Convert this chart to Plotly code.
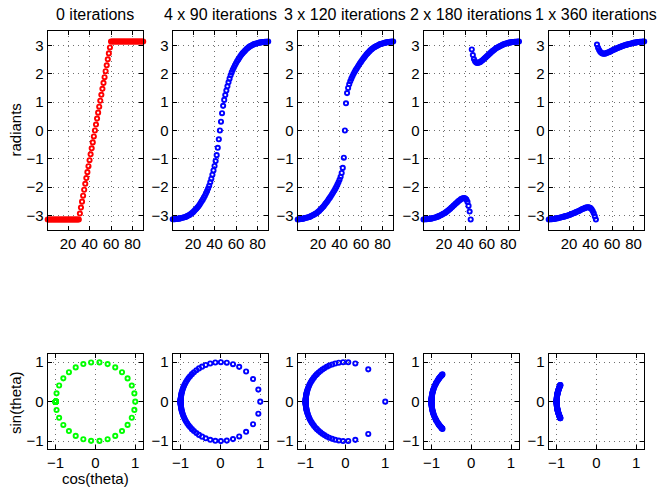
import numpy as np
import plotly.graph_objects as go

W, H = 657, 491

# sample index (x axis of the top row)
idx = list(range(1, 91))

titles = ["0 iterations", "4 x 90 iterations", "3 x 120 iterations",
          "2 x 180 iterations", "1 x 360 iterations"]

# phase (radians) per sample
theta0 = [-3.14] * 30 + [
    -2.93, -2.72, -2.51, -2.30, -2.09, -1.88, -1.68, -1.47, -1.26, -1.05,
    -0.84, -0.63, -0.42, -0.21, 0.00, 0.21, 0.42, 0.63, 0.84, 1.05,
    1.26, 1.47, 1.68, 1.88, 2.09, 2.30, 2.51, 2.72, 2.93] + [3.14] * 31

theta1 = [
    -3.13, -3.13, -3.13, -3.12, -3.12, -3.11, -3.11, -3.10, -3.09, -3.08,
    -3.07, -3.06, -3.05, -3.03, -3.01, -2.99, -2.97, -2.94, -2.91, -2.88,
    -2.84, -2.80, -2.76, -2.72, -2.67, -2.62, -2.56, -2.50, -2.44, -2.37,
    -2.30, -2.22, -2.14, -2.05, -1.95, -1.83, -1.70, -1.56, -1.41, -1.25,
    -1.08, -0.87, -0.61, -0.31, 0.00,
    0.31, 0.61, 0.87, 1.08, 1.25, 1.41, 1.56, 1.70, 1.83, 1.95,
    2.05, 2.14, 2.22, 2.30, 2.37, 2.44, 2.50, 2.56, 2.62, 2.67,
    2.72, 2.76, 2.80, 2.84, 2.88, 2.91, 2.94, 2.97, 2.99, 3.01,
    3.03, 3.05, 3.06, 3.07, 3.08, 3.09, 3.10, 3.11, 3.11, 3.12,
    3.12, 3.13, 3.13, 3.13, 3.14]

theta2 = [
    -3.14, -3.13, -3.13, -3.12, -3.12, -3.11, -3.10, -3.09, -3.08, -3.07,
    -3.06, -3.05, -3.03, -3.01, -2.99, -2.97, -2.95, -2.93, -2.90, -2.87,
    -2.84, -2.80, -2.76, -2.72, -2.68, -2.63, -2.58, -2.53, -2.48, -2.42,
    -2.37, -2.31, -2.25, -2.19, -2.13, -2.06, -1.99, -1.91, -1.83, -1.74,
    -1.63, -1.50, -1.32, -0.96, 0.00,
    0.96, 1.32, 1.50, 1.63, 1.74, 1.83, 1.91, 1.99, 2.06, 2.13,
    2.19, 2.25, 2.31, 2.37, 2.42, 2.48, 2.53, 2.58, 2.63, 2.68,
    2.72, 2.76, 2.80, 2.84, 2.87, 2.90, 2.93, 2.95, 2.97, 2.99,
    3.01, 3.03, 3.05, 3.06, 3.07, 3.08, 3.09, 3.10, 3.11, 3.12,
    3.12, 3.13, 3.13, 3.14, 3.14]

theta3 = [
    -3.14, -3.13, -3.13, -3.13, -3.12, -3.12, -3.11, -3.11, -3.10, -3.09,
    -3.08, -3.07, -3.06, -3.04, -3.03, -3.01, -2.99, -2.97, -2.95, -2.93,
    -2.91, -2.88, -2.85, -2.82, -2.79, -2.76, -2.72, -2.69, -2.65, -2.62,
    -2.58, -2.55, -2.51, -2.48, -2.45, -2.42, -2.40, -2.39, -2.38, -2.40,
    -2.44, -2.52, -2.66, -2.86, -3.14,
    2.86, 2.66, 2.52, 2.44, 2.40, 2.38, 2.39, 2.40, 2.42, 2.45,
    2.48, 2.51, 2.55, 2.58, 2.62, 2.65, 2.69, 2.72, 2.76, 2.79,
    2.82, 2.85, 2.88, 2.91, 2.93, 2.95, 2.97, 2.99, 3.01, 3.03,
    3.04, 3.06, 3.07, 3.08, 3.09, 3.10, 3.11, 3.11, 3.12, 3.12,
    3.13, 3.13, 3.13, 3.14, 3.14]

theta4 = [
    -3.14, -3.13, -3.13, -3.13, -3.12, -3.12, -3.11, -3.10, -3.10, -3.09,
    -3.08, -3.07, -3.06, -3.05, -3.04, -3.03, -3.02, -3.01, -3.00, -2.98,
    -2.97, -2.95, -2.94, -2.92, -2.91, -2.89, -2.87, -2.86, -2.84, -2.82,
    -2.80, -2.78, -2.76, -2.75, -2.73, -2.72, -2.71, -2.71, -2.72, -2.74,
    -2.78, -2.84, -2.92, -3.03, -3.14,
    3.03, 2.92, 2.84, 2.78, 2.74, 2.72, 2.71, 2.71, 2.72, 2.73,
    2.75, 2.76, 2.78, 2.80, 2.82, 2.84, 2.86, 2.87, 2.89, 2.91,
    2.92, 2.94, 2.95, 2.97, 2.98, 3.00, 3.01, 3.02, 3.03, 3.04,
    3.05, 3.06, 3.07, 3.08, 3.09, 3.10, 3.10, 3.11, 3.12, 3.12,
    3.13, 3.13, 3.13, 3.14, 3.14]

thetas = [theta0, theta1, theta2, theta3, theta4]
top_colors = ["#ff0000", "#0000ff", "#0000ff", "#0000ff", "#0000ff"]
bot_colors = ["#00ff00", "#0000ff", "#0000ff", "#0000ff", "#0000ff"]

top_yticks = [-3, -2, -1, 0, 1, 2, 3]
top_xticks = [20, 40, 60, 80]
unit_ticks = [-1, 0, 1]

# layout geometry (pixels)
lefts = [47.7, 172.7, 297.7, 423.5, 548.7]
pw = 95.5
top_row = (31.3, 229.7)
bot_row = (354.3, 449.0)

FONT = "Liberation Sans, Arial, Helvetica, sans-serif"
tickfont = dict(family=FONT, size=15, color="black")
MSIZE, MLW = 4.2, 1.9


def axis_common():
    return dict(
        showline=True, linecolor="black", linewidth=1, mirror="ticks",
        ticks="inside", ticklen=4, tickwidth=1, tickcolor="black",
        showgrid=True, gridcolor="#707070", gridwidth=1, griddash="1px,4px",
        zeroline=False, tickfont=tickfont, fixedrange=True,
    )


fig = go.Figure()
layout = {}
for j in range(5):
    th = np.array(thetas[j])
    xd = [lefts[j] / W, (lefts[j] + pw) / W]
    # top row
    n = j + 1
    fig.add_trace(go.Scatter(
        x=idx, y=thetas[j], mode="markers", cliponaxis=False,
        marker=dict(symbol="circle-open", size=MSIZE,
                    line=dict(width=MLW, color=top_colors[j]),
                    color=top_colors[j]),
        xaxis=f"x{n}", yaxis=f"y{n}", showlegend=False, hoverinfo="skip"))
    xa = axis_common()
    xa.update(domain=xd, range=[1, 90], tickmode="array", tickvals=top_xticks,
              anchor=f"y{n}")
    ya = axis_common()
    ya.update(domain=[1 - top_row[1] / H, 1 - top_row[0] / H],
              range=[-3.5, 3.5], tickmode="array", tickvals=top_yticks,
              anchor=f"x{n}")
    layout["xaxis" if n == 1 else f"xaxis{n}"] = xa
    layout["yaxis" if n == 1 else f"yaxis{n}"] = ya

    # bottom row
    m = j + 6
    fig.add_trace(go.Scatter(
        x=np.cos(th), y=np.sin(th), mode="markers", cliponaxis=False,
        marker=dict(symbol="circle-open", size=MSIZE,
                    line=dict(width=MLW, color=bot_colors[j]),
                    color=bot_colors[j]),
        xaxis=f"x{m}", yaxis=f"y{m}", showlegend=False, hoverinfo="skip"))
    xb = axis_common()
    xb.update(domain=xd, range=[-1.2, 1.2], tickmode="array",
              tickvals=unit_ticks, anchor=f"y{m}")
    yb = axis_common()
    yb.update(domain=[1 - bot_row[1] / H, 1 - bot_row[0] / H],
              range=[-1.2, 1.2], tickmode="array", tickvals=unit_ticks,
              anchor=f"x{m}")
    layout[f"xaxis{m}"] = xb
    layout[f"yaxis{m}"] = yb

annotations = []
for j in range(5):
    annotations.append(dict(
        text=titles[j], x=(lefts[j] + pw / 2) / W, y=1 - 14.5 / H,
        xref="paper", yref="paper", xanchor="center", yanchor="middle",
        showarrow=False, font=dict(family=FONT, size=16, color="black")))

annotations.append(dict(text="radiants", x=15 / W, y=1 - 130.5 / H,
                        xref="paper", yref="paper", xanchor="center",
                        yanchor="middle", textangle=-90, showarrow=False,
                        font=dict(family=FONT, size=15, color="black")))
annotations.append(dict(text="sin(theta)", x=15 / W, y=1 - 403 / H,
                        xref="paper", yref="paper", xanchor="center",
                        yanchor="middle", textangle=-90, showarrow=False,
                        font=dict(family=FONT, size=15, color="black")))
annotations.append(dict(text="cos(theta)", x=(lefts[0] + pw / 2) / W,
                        y=1 - 478 / H, xref="paper", yref="paper",
                        xanchor="center", yanchor="middle", showarrow=False,
                        font=dict(family=FONT, size=15, color="black")))

fig.update_layout(
    width=W, height=H, margin=dict(l=0, r=0, t=0, b=0),
    paper_bgcolor="white", plot_bgcolor="white",
    annotations=annotations, showlegend=False, **layout)

fig.write_html(
    "out.html", config={"displayModeBar": False},
    post_script="document.body.style.margin='0';"
                "document.body.style.overflow='hidden';")
